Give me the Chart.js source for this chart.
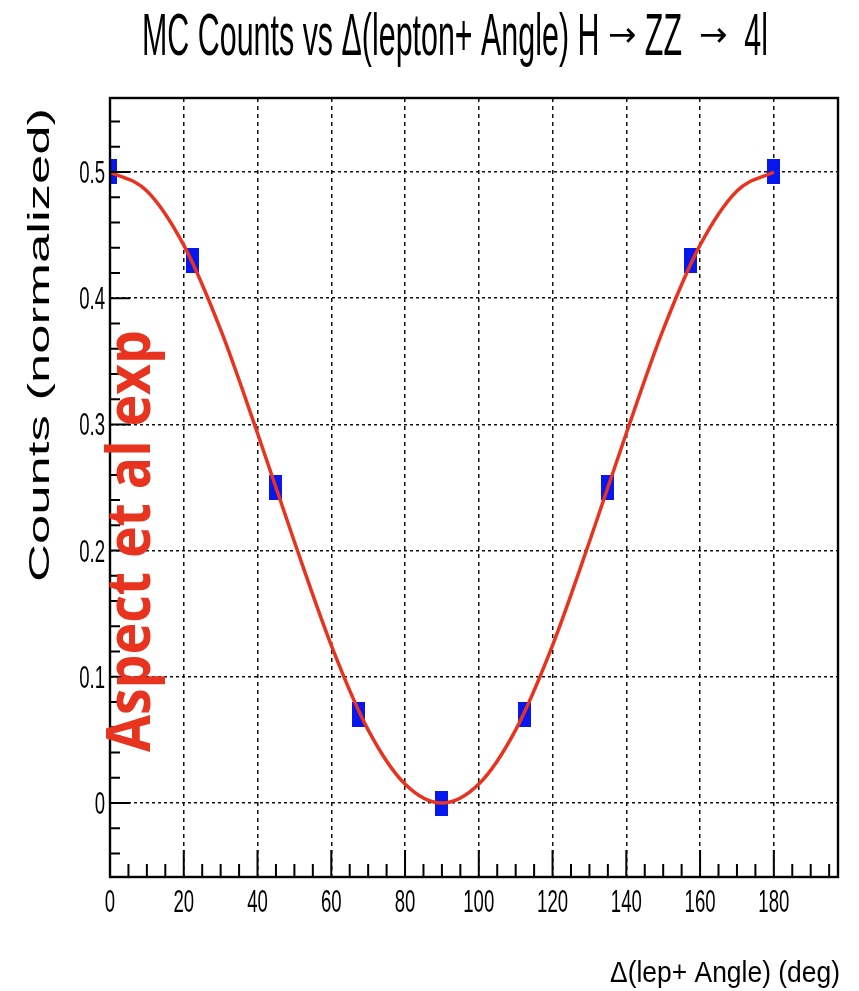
<!DOCTYPE html>
<html>
<head>
<meta charset="utf-8">
<script src="https://cdn.jsdelivr.net/npm/chart.js@4.4.1/dist/chart.umd.min.js"></script>
<style>
  html, body { margin: 0; padding: 0; background: #fff; }
  #chart { display: block; }
</style>
</head>
<body>
<canvas id="chart" width="859" height="991"></canvas>
<script>
// data
const markerAngles = [0, 22.5, 45, 67.5, 90, 112.5, 135, 157.5, 180];
const markerCounts = [0.5, 0.43, 0.25, 0.07, 0.0, 0.07, 0.25, 0.43, 0.5];

const fitAngles = [0, 10, 20, 30, 40, 50, 60, 70, 80, 90, 100, 110, 120, 130, 140, 150, 160, 170, 180];
const fitCounts = [0.5, 0.485, 0.442, 0.375, 0.293, 0.207, 0.125, 0.058, 0.015, 0.0, 0.015, 0.058, 0.125, 0.207, 0.293, 0.375, 0.442, 0.485, 0.5];

const xTicks = [0, 20, 40, 60, 80, 100, 120, 140, 160, 180];
const yTicks = [0, 0.1, 0.2, 0.3, 0.4, 0.5];
const xMinorStep = 5;
const yMinorStep = 0.02;

// title pieces: [text, kind]
const TITLE_PARTS = [['MC Counts vs \u0394(lepton+ Angle) H ', 'text'], ['\u2192', 'arrow'], [' ZZ  ', 'text'], ['\u2192', 'arrow'], ['  4l', 'text']];
const X_TITLE = '\u0394(lep+ Angle) (deg)';
const Y_TITLE = 'Counts (normalized)';
const WATERMARK = 'Aspect et al exp';

const BLUE = '#0717f0';
const RED = '#e8331f';
const FONT = '"Liberation Sans", Arial, sans-serif';

// tall blue box used as marker
const marker = document.createElement('canvas');
marker.width = 13;
marker.height = 25;
(() => {
  const c = marker.getContext('2d');
  c.fillStyle = BLUE;
  c.fillRect(0, 0, 13, 25);
})();

// draw text squeezed/stretched along its run to a given length
function fitText(ctx, text, font, x, y, len, align) {
  ctx.save();
  ctx.font = font;
  const w = ctx.measureText(text).width;
  ctx.translate(x, y);
  ctx.scale(len / w, 1);
  ctx.textAlign = align || 'left';
  ctx.textBaseline = 'alphabetic';
  ctx.fillText(text, 0, 0);
  ctx.restore();
}

function narrowText(ctx, text, x, y, align) {
  ctx.save();
  ctx.font = '31px ' + FONT;
  ctx.translate(x, y);
  ctx.scale(0.6, 1);
  ctx.textAlign = align;
  ctx.textBaseline = 'alphabetic';
  ctx.fillText(text, 0, 0);
  ctx.restore();
}

const titleFonts = {
  text: '60px ' + FONT,
  arrow: '34px "DejaVu Sans", sans-serif'
};

// narrow text parts, arrows kept at natural width
function drawTitle(ctx, x, baseline, len) {
  let textW = 0, arrowW = 0;
  const widths = TITLE_PARTS.map(([t, kind]) => {
    ctx.font = titleFonts[kind];
    const w = ctx.measureText(t).width;
    if (kind === 'arrow') arrowW += w; else textW += w;
    return w;
  });
  const s = (len - arrowW) / textW;
  ctx.save();
  ctx.textAlign = 'left';
  let cx = x;
  TITLE_PARTS.forEach(([t, kind], i) => {
    ctx.font = titleFonts[kind];
    if (kind === 'arrow') {
      ctx.textBaseline = 'middle';
      ctx.fillText(t, cx, 37);
      cx += widths[i];
    } else {
      ctx.save();
      ctx.textBaseline = 'alphabetic';
      ctx.translate(cx, baseline);
      ctx.scale(s, 1);
      ctx.fillText(t, 0, 0);
      ctx.restore();
      cx += widths[i] * s;
    }
  });
  ctx.restore();
}

const rootFrame = {
  id: 'rootFrame',
  afterDraw(chart) {
    const { ctx, chartArea: a, scales: { x, y } } = chart;
    ctx.save();
    ctx.strokeStyle = '#000';
    ctx.fillStyle = '#000';

    // inner ticks
    ctx.lineWidth = 2;
    ctx.beginPath();
    for (let v = 0; v <= x.max + 1e-6; v += xMinorStep) {
      const px = x.getPixelForValue(v);
      const major = v % 20 === 0;
      ctx.moveTo(px, a.bottom);
      ctx.lineTo(px, a.bottom - (major ? 27 : 13));
    }
    const yStart = Math.ceil(y.min / yMinorStep) * yMinorStep;
    for (let v = yStart; v <= y.max + 1e-6; v += yMinorStep) {
      const py = y.getPixelForValue(v);
      const major = Math.abs(Math.round(v * 10) - v * 10) < 1e-6;
      ctx.moveTo(a.left, py);
      ctx.lineTo(a.left + (major ? 20 : 10), py);
    }
    ctx.stroke();

    // frame
    ctx.lineWidth = 2.4;
    ctx.strokeRect(a.left, a.top, a.right - a.left, a.bottom - a.top);

    // tick labels
    xTicks.forEach(v => narrowText(ctx, String(v), x.getPixelForValue(v), 912, 'center'));
    yTicks.forEach(v => narrowText(ctx, v === 0 ? '0' : v.toFixed(1), 105, y.getPixelForValue(v) + 11, 'right'));

    // titles
    drawTitle(ctx, 142, 55, 626);
    fitText(ctx, X_TITLE, '30px ' + FONT, 840, 982, 230, 'right');

    ctx.save();
    ctx.translate(49, 582);
    ctx.rotate(-Math.PI / 2);
    fitText(ctx, Y_TITLE, '30px ' + FONT, 0, 0, 474, 'left');
    ctx.restore();

    // red stamp over the plot
    ctx.save();
    ctx.fillStyle = RED;
    ctx.translate(150, 752);
    ctx.rotate(-Math.PI / 2);
    fitText(ctx, WATERMARK, 'bold 60px "Open Sans", "Noto Sans", sans-serif', 0, 0, 422, 'left');
    ctx.restore();

    ctx.restore();
  }
};

const gridOpts = (dash) => ({
  grid: { color: '#111', lineWidth: 1.5, drawTicks: false },
  border: { display: false, dash: dash },
  ticks: { display: false }
});

new Chart(document.getElementById('chart'), {
  type: 'line',
  data: {
    datasets: [
      {
        label: 'fit',
        data: fitAngles.map((a, i) => ({ x: a, y: fitCounts[i] })),
        borderColor: RED,
        borderWidth: 3.5,
        pointRadius: 0,
        cubicInterpolationMode: 'monotone',
        fill: false,
        order: 1
      },
      {
        label: 'MC',
        data: markerAngles.map((a, i) => ({ x: a, y: markerCounts[i] })),
        showLine: false,
        pointStyle: marker,
        pointRadius: 7,
        order: 2
      }
    ]
  },
  options: {
    responsive: false,
    animation: false,
    events: [],
    layout: { padding: { left: 110, top: 98, right: 21, bottom: 114 } },
    plugins: { legend: { display: false }, tooltip: { enabled: false }, title: { display: false } },
    scales: {
      x: {
        type: 'linear', min: 0, max: 197.4,
        afterBuildTicks: s => { s.ticks = xTicks.map(v => ({ value: v })); },
        ...gridOpts([4, 4])
      },
      y: {
        type: 'linear', min: -0.0586, max: 0.5586,
        afterBuildTicks: s => { s.ticks = yTicks.map(v => ({ value: v })); },
        ...gridOpts([3, 3])
      }
    }
  },
  plugins: [rootFrame]
});
</script>
</body>
</html>
